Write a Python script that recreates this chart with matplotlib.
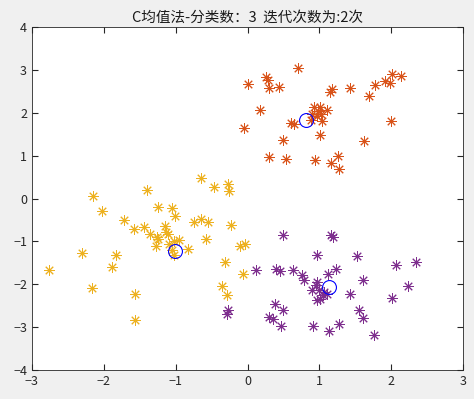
import matplotlib.pyplot as plt
import numpy as np

plt.rcParams['font.family'] = ['Noto Sans CJK SC', 'DejaVu Sans']

# 三类点 (x, y)
orange_x = [0.70, 0.00, 0.26, 0.28, 0.30, 0.44, 1.17, 1.15, 1.42, 1.78, 1.91, 1.98, 2.01, 2.13,
            1.69, 0.17, -0.05, 0.61, 0.65, 0.92, 1.01, 0.98, 1.11, 0.90, 0.96, 0.88, 1.04, 1.02,
            1.99, 1.01, 0.49, 1.62, 0.30, 0.53, 1.26, 0.94, 1.16, 1.27]
orange_y = [3.05, 2.67, 2.83, 2.77, 2.58, 2.61, 2.56, 2.48, 2.58, 2.66, 2.75, 2.70, 2.91, 2.86,
            2.40, 2.07, 1.65, 1.77, 1.74, 2.14, 2.14, 2.05, 2.07, 1.97, 1.93, 1.83, 1.80, 1.97,
            1.82, 1.49, 1.37, 1.34, 0.98, 0.93, 1.00, 0.89, 0.83, 0.70]

yellow_x = [-2.77, -2.31, -2.17, -2.15, -2.02, -1.83, -1.89, -1.72, -1.58, -1.56, -1.57, -1.44,
            -1.40, -1.36, -1.25, -1.26, -1.25, -1.28, -1.15, -1.14, -1.11, -1.05, -1.01, -1.10,
            -1.02, -0.95, -1.05, -1.03, -0.83, -0.74, -0.65, -0.55, -0.65, -0.46, -0.27, -0.26,
            -0.23, -0.58, -0.11, -0.03, -0.32, -0.07, -0.35, -0.29]
yellow_y = [-1.66, -1.27, -2.10, 0.05, -0.30, -1.31, -1.61, -0.51, -0.72, -2.24, -2.84, -0.67,
            0.21, -0.82, -0.19, -0.89, -0.94, -1.10, -0.64, -0.79, -0.84, -0.22, -0.42, -1.06,
            -1.00, -0.96, -1.21, -1.33, -1.19, -0.54, -0.49, -0.56, 0.47, 0.28, 0.34, 0.17,
            -0.61, -0.94, -1.10, -1.07, -1.49, -1.76, -2.05, -2.26]

purple_x = [-0.27, -0.28, 0.49, 1.16, 1.19, 0.96, 1.52, 2.07, 2.34, 0.12, 0.39, 0.45, 0.63, 0.76,
            0.79, 1.12, 1.23, 1.61, 2.23, 0.97, 0.95, 0.90, 0.99, 1.06, 1.11, 1.05, 0.96, 1.01,
            1.42, 2.01, 0.38, 0.50, 0.30, 0.35, 0.46, 0.91, 1.13, 1.27, 1.55, 1.61, 1.76]
purple_y = [-2.61, -2.69, -0.86, -0.85, -0.90, -1.31, -1.35, -1.56, -1.48, -1.68, -1.65, -1.70,
            -1.68, -1.79, -1.91, -1.76, -1.64, -1.91, -2.04, -1.95, -2.03, -2.14, -2.14, -2.18,
            -2.24, -2.26, -2.36, -2.34, -2.22, -2.32, -2.47, -2.60, -2.77, -2.81, -2.98, -2.98,
            -3.10, -2.94, -2.61, -2.80, -3.18]

# 聚类中心
center_x = [0.82, -1.01, 1.14]
center_y = [1.83, -1.23, -2.07]

fig = plt.figure(figsize=(4.74, 3.99), dpi=100, facecolor='#F0F0F0')
ax = fig.add_axes([0.0675, 0.073, 0.9095, 0.859])

star = (8, 2, 0)
for xs, ys, c in [(orange_x, orange_y, '#D95319'),
                  (yellow_x, yellow_y, '#EDB120'),
                  (purple_x, purple_y, '#7E2F8E')]:
    ax.plot(xs, ys, linestyle='none', marker=star, color=c, markersize=7.5, markeredgewidth=0.7)
ax.plot(center_x, center_y, linestyle='none', marker='o', markerfacecolor='none',
        markeredgecolor='b', markersize=10, markeredgewidth=0.8)

ax.set_xlim(-3, 3)
ax.set_ylim(-4, 4)
ax.set_xticks(np.arange(-3, 4, 1))
ax.set_yticks(np.arange(-4, 5, 1))
ax.tick_params(direction='in', top=True, right=True, labelsize=9, colors='#262626', length=4)
for s in ax.spines.values():
    s.set_color('#262626')
    s.set_linewidth(0.6)

ax.set_title('C均值法-分类数：3  迭代次数为:2次', fontsize=10.5, color='#1a1a1a', pad=4)

fig.savefig('out.png', dpi=100, facecolor=fig.get_facecolor())
